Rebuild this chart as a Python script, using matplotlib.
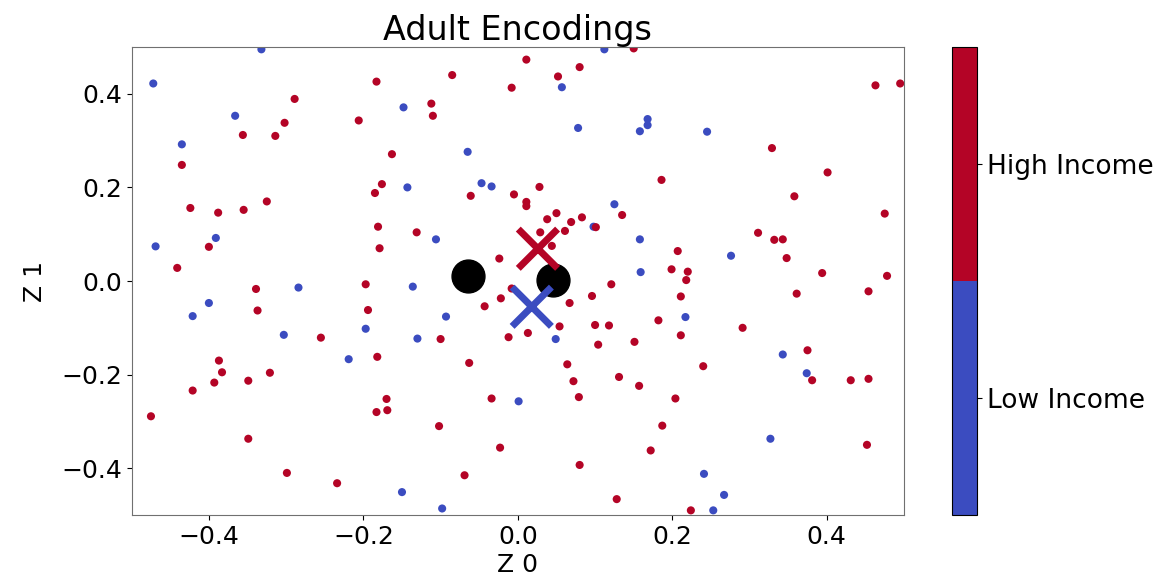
import numpy as np
import matplotlib
matplotlib.use("Agg")
from matplotlib import pyplot as plt
from matplotlib.colors import ListedColormap

# encodings of the low income samples (label 0)
low_x = [-0.332, -0.472, -0.366, -0.435, -0.148, -0.065, -0.143, -0.047, -0.034, -0.469,
         -0.391, -0.106, 0.112, 0.057, 0.078, 0.158, 0.168, 0.168, 0.245, 0.125,
         0.098, 0.158, 0.276, 0.159, -0.284, -0.136, -0.400, -0.421, -0.093, -0.197,
         -0.303, -0.130, -0.219, 0.001, -0.150, -0.098, 0.217, 0.049, 0.343, 0.374,
         0.327, 0.241, 0.267, 0.253]
low_y = [0.495, 0.422, 0.353, 0.292, 0.371, 0.276, 0.200, 0.209, 0.202, 0.074,
         0.092, 0.089, 0.495, 0.414, 0.327, 0.320, 0.346, 0.333, 0.319, 0.164,
         0.116, 0.089, 0.054, 0.019, -0.014, -0.012, -0.047, -0.075, -0.076, -0.102,
         -0.115, -0.123, -0.167, -0.257, -0.451, -0.486, -0.077, -0.124, -0.157, -0.197,
         -0.337, -0.412, -0.457, -0.490]

# encodings of the high income samples (label 1)
high_x = [-0.183, -0.085, -0.008, -0.289, -0.112, -0.110, -0.206, -0.302, -0.356, -0.314,
          -0.435, -0.163, -0.176, -0.185, -0.061, -0.005, -0.424, -0.388, -0.355, -0.325,
          -0.181, -0.131, -0.400, -0.179, -0.441, -0.024, 0.150, 0.011, 0.080, 0.052,
          0.463, 0.495, 0.329, 0.401, 0.186, 0.358, 0.475, 0.028, 0.011, 0.011,
          0.050, 0.038, 0.069, 0.083, 0.135, 0.061, 0.101, 0.029, 0.044, 0.311,
          0.332, 0.343, 0.207, 0.348, 0.199, 0.220, 0.218, 0.394, 0.478, -0.339,
          -0.197, -0.008, -0.022, -0.043, -0.337, -0.194, -0.255, -0.100, -0.012, -0.182,
          -0.387, -0.383, -0.321, -0.063, -0.349, -0.393, -0.421, -0.170, -0.034, -0.183,
          -0.169, -0.475, -0.102, -0.349, -0.023, -0.299, -0.234, -0.069, 0.121, 0.096,
          0.067, 0.211, 0.361, 0.454, 0.054, 0.100, 0.118, 0.182, 0.013, 0.211,
          0.291, 0.104, 0.151, 0.375, 0.064, 0.240, 0.072, 0.131, 0.157, 0.381,
          0.431, 0.454, 0.079, 0.204, 0.187, 0.172, 0.452, 0.080, 0.128, 0.224]
high_y = [0.426, 0.440, 0.413, 0.389, 0.379, 0.353, 0.343, 0.338, 0.312, 0.310,
          0.248, 0.271, 0.207, 0.188, 0.182, 0.185, 0.156, 0.146, 0.152, 0.170,
          0.116, 0.104, 0.073, 0.070, 0.028, 0.048, 0.497, 0.473, 0.457, 0.437,
          0.418, 0.422, 0.284, 0.232, 0.216, 0.181, 0.144, 0.201, 0.169, 0.160,
          0.145, 0.132, 0.126, 0.136, 0.141, 0.107, 0.115, 0.104, 0.075, 0.103,
          0.088, 0.089, 0.064, 0.049, 0.025, 0.020, 0.002, 0.017, 0.011, -0.017,
          -0.007, -0.016, -0.037, -0.054, -0.063, -0.062, -0.121, -0.124, -0.120, -0.162,
          -0.170, -0.195, -0.196, -0.175, -0.213, -0.217, -0.234, -0.252, -0.251, -0.280,
          -0.276, -0.289, -0.310, -0.337, -0.356, -0.410, -0.432, -0.415, -0.007, -0.032,
          -0.047, -0.033, -0.027, -0.022, -0.097, -0.094, -0.095, -0.084, -0.111, -0.116,
          -0.100, -0.136, -0.130, -0.148, -0.178, -0.182, -0.214, -0.205, -0.224, -0.212,
          -0.212, -0.209, -0.248, -0.251, -0.309, -0.362, -0.350, -0.393, -0.466, -0.490]

# prototypes (black) and class centres (crosses)
proto_x = [-0.065, 0.045]
proto_y = [0.010, 0.002]
centre_x = [0.018, 0.026]
centre_y = [-0.055, 0.069]
class_names = ["Low Income", "High Income"]

xs = np.array(low_x + high_x)
ys = np.array(low_y + high_y)
labels = np.array([0] * len(low_x) + [1] * len(high_x))

cw = plt.get_cmap("coolwarm")
cmap = ListedColormap([cw(0.0), cw(1.0)])

fig = plt.figure(figsize=(11.65, 5.8), dpi=100)
ax = fig.add_axes([0.113, 0.112, 0.663, 0.807])
cax = fig.add_axes([0.817, 0.112, 0.022, 0.807])

sc = ax.scatter(xs, ys, c=labels, cmap=cmap, vmin=0, vmax=1, s=34, edgecolors="none")
ax.scatter(proto_x, proto_y, c="black", s=560, zorder=3)
ax.scatter(centre_x, centre_y, c=[0, 1], cmap=cmap, vmin=0, vmax=1, marker="x",
           s=800, linewidths=5, zorder=4)

ax.set_xlim(-0.5, 0.5)
ax.set_ylim(-0.5, 0.5)
ax.set_xticks([-0.4, -0.2, 0.0, 0.2, 0.4])
ax.set_yticks([-0.4, -0.2, 0.0, 0.2, 0.4])
ax.tick_params(labelsize=18)
ax.set_xlabel("Z 0", fontsize=18, labelpad=3)
ax.set_ylabel("Z 1", fontsize=18, labelpad=10)
ax.set_title("Adult Encodings", fontsize=24, pad=4)
for sp in ax.spines.values():
    sp.set_color("#707070")

cb = fig.colorbar(sc, cax=cax, ticks=[0.25, 0.75])
cb.ax.set_yticklabels(class_names)
cb.ax.tick_params(labelsize=19)

fig.savefig("out.png", dpi=100)
